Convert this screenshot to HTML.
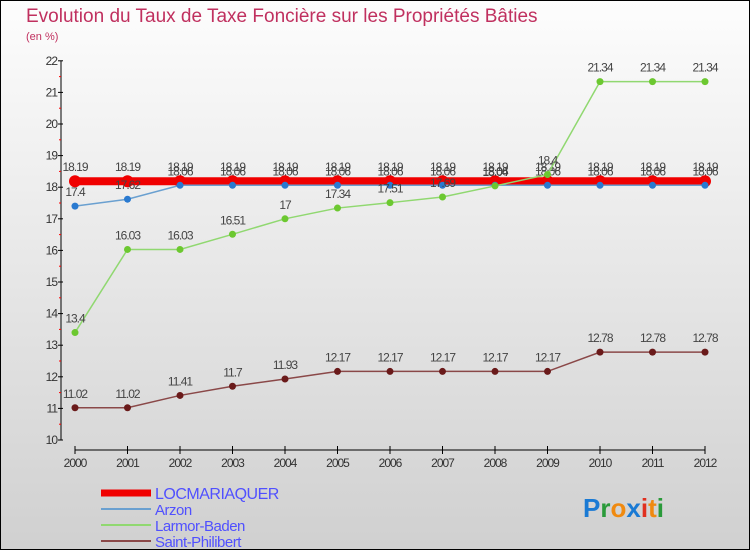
<!DOCTYPE html>
<html><head><meta charset="utf-8"><style>
body{margin:0}
#c{width:750px;height:550px;position:relative;box-sizing:border-box;border:1px solid #000;background:linear-gradient(#fdfdfd,#d0d0d0);font-family:"Liberation Sans",sans-serif;overflow:hidden}
</style></head><body>
<div id="c">
<svg width="750" height="550" style="position:absolute;left:-1px;top:-1px">
<text x="26" y="22" font-size="19" fill="#c0305f">Evolution du Taux de Taxe Foncière sur les Propriétés Bâties</text>
<text x="26" y="40" font-size="11" fill="#c0305f">(en %)</text>
<g id="axes"></g><g id="series"></g><g id="legend"></g>
<text x="583" y="517" font-size="26" font-weight="bold"><tspan fill="#1a7ad4">P</tspan><tspan fill="#2a9a3a">r</tspan><tspan fill="#f08a10">o</tspan><tspan fill="#1a7ad4">x</tspan><tspan fill="#e03020">i</tspan><tspan fill="#f08a10">t</tspan><tspan fill="#2a9a3a">i</tspan></text>
</svg>
</div>
<script>
const years=[2000,2001,2002,2003,2004,2005,2006,2007,2008,2009,2010,2011,2012];
const yTicks=[10,11,12,13,14,15,16,17,18,19,20,21,22];
const locmariaquer=[18.19,18.19,18.19,18.19,18.19,18.19,18.19,18.19,18.19,18.19,18.19,18.19,18.19];
const arzon=[17.4,17.62,18.06,18.06,18.06,18.06,18.06,18.06,18.06,18.06,18.06,18.06,18.06];
const larmor=[13.4,16.03,16.03,16.51,17,17.34,17.51,17.69,18.04,18.4,21.34,21.34,21.34];
const stphil=[11.02,11.02,11.41,11.7,11.93,12.17,12.17,12.17,12.17,12.17,12.78,12.78,12.78];
const NS="http://www.w3.org/2000/svg";
const X=i=>75+i*52.5, Y=v=>440-(v-10)*31.6;
function mk(p,t,a){const e=document.createElementNS(NS,t);for(const k in a)e.setAttribute(k,a[k]);p.appendChild(e);return e;}
const ax=document.getElementById('axes');
let e=mk(ax,'line',{x1:61,y1:61,x2:61,y2:440,stroke:'#000'});

e=mk(ax,'line',{x1:75,y1:450,x2:705,y2:450,stroke:'#000'});

yTicks.forEach(v=>{mk(ax,'line',{x1:58,y1:Y(v),x2:63,y2:Y(v),stroke:'#000'});
 if(v<22)mk(ax,'line',{x1:59,y1:Y(v+0.5),x2:61,y2:Y(v+0.5),stroke:'#f00'});
 const t=mk(ax,'text',{x:57,y:Y(v)+4,'font-size':12,fill:'#333','text-anchor':'end','letter-spacing':'-1'});t.textContent=v;
 });
years.forEach((y,i)=>{mk(ax,'line',{x1:X(i),y1:446,x2:X(i),y2:454,stroke:'#000'});
 const t=mk(ax,'text',{x:X(i),y:467,'font-size':12,fill:'#333','text-anchor':'middle','letter-spacing':'-1'});t.textContent=y;
 });
const sg=document.getElementById('series');
function series(name,vals,col,dot,w,r){
 const g=mk(sg,'g',{});
 mk(g,'polyline',{points:vals.map((v,i)=>X(i)+','+Y(v)).join(' '),fill:'none',stroke:col,'stroke-width':w});
 vals.forEach((v,i)=>{const c=mk(g,'circle',{cx:X(i),cy:Y(v),r:r,fill:dot});
  
  const t=mk(g,'text',{x:X(i),y:Y(v)-10,'font-size':12,fill:'#444','text-anchor':'middle','letter-spacing':'-1'});t.textContent=v;
  });
}
series('locmariaquer',locmariaquer,'#f00000','#f00000',8,6);
series('arzon',arzon,'#6aa0d0','#2a7ad0',1.5,3.5);
series('larmor-baden',larmor,'#90d870','#6cc830',1.5,3.5);
series('saint-philibert',stphil,'#8a4848','#6a1a1a',1.5,3.5);
const lg=document.getElementById('legend');
[['LOCMARIAQUER','#f00000',7],['Arzon','#6aa0d0',2],['Larmor-Baden','#90d870',2],['Saint-Philibert','#8a4848',2]].forEach((d,i)=>{
 const y=493+i*16;
 const g=mk(lg,'g',{});
 mk(g,'line',{x1:101,y1:y,x2:151,y2:y,stroke:d[1],'stroke-width':d[2]});
 const t=mk(g,'text',{x:155,y:y+6,'font-size':i==0?16:15,fill:'#5050ff','letter-spacing':'-0.5'});t.textContent=d[0];
});
</script>
</body></html>
